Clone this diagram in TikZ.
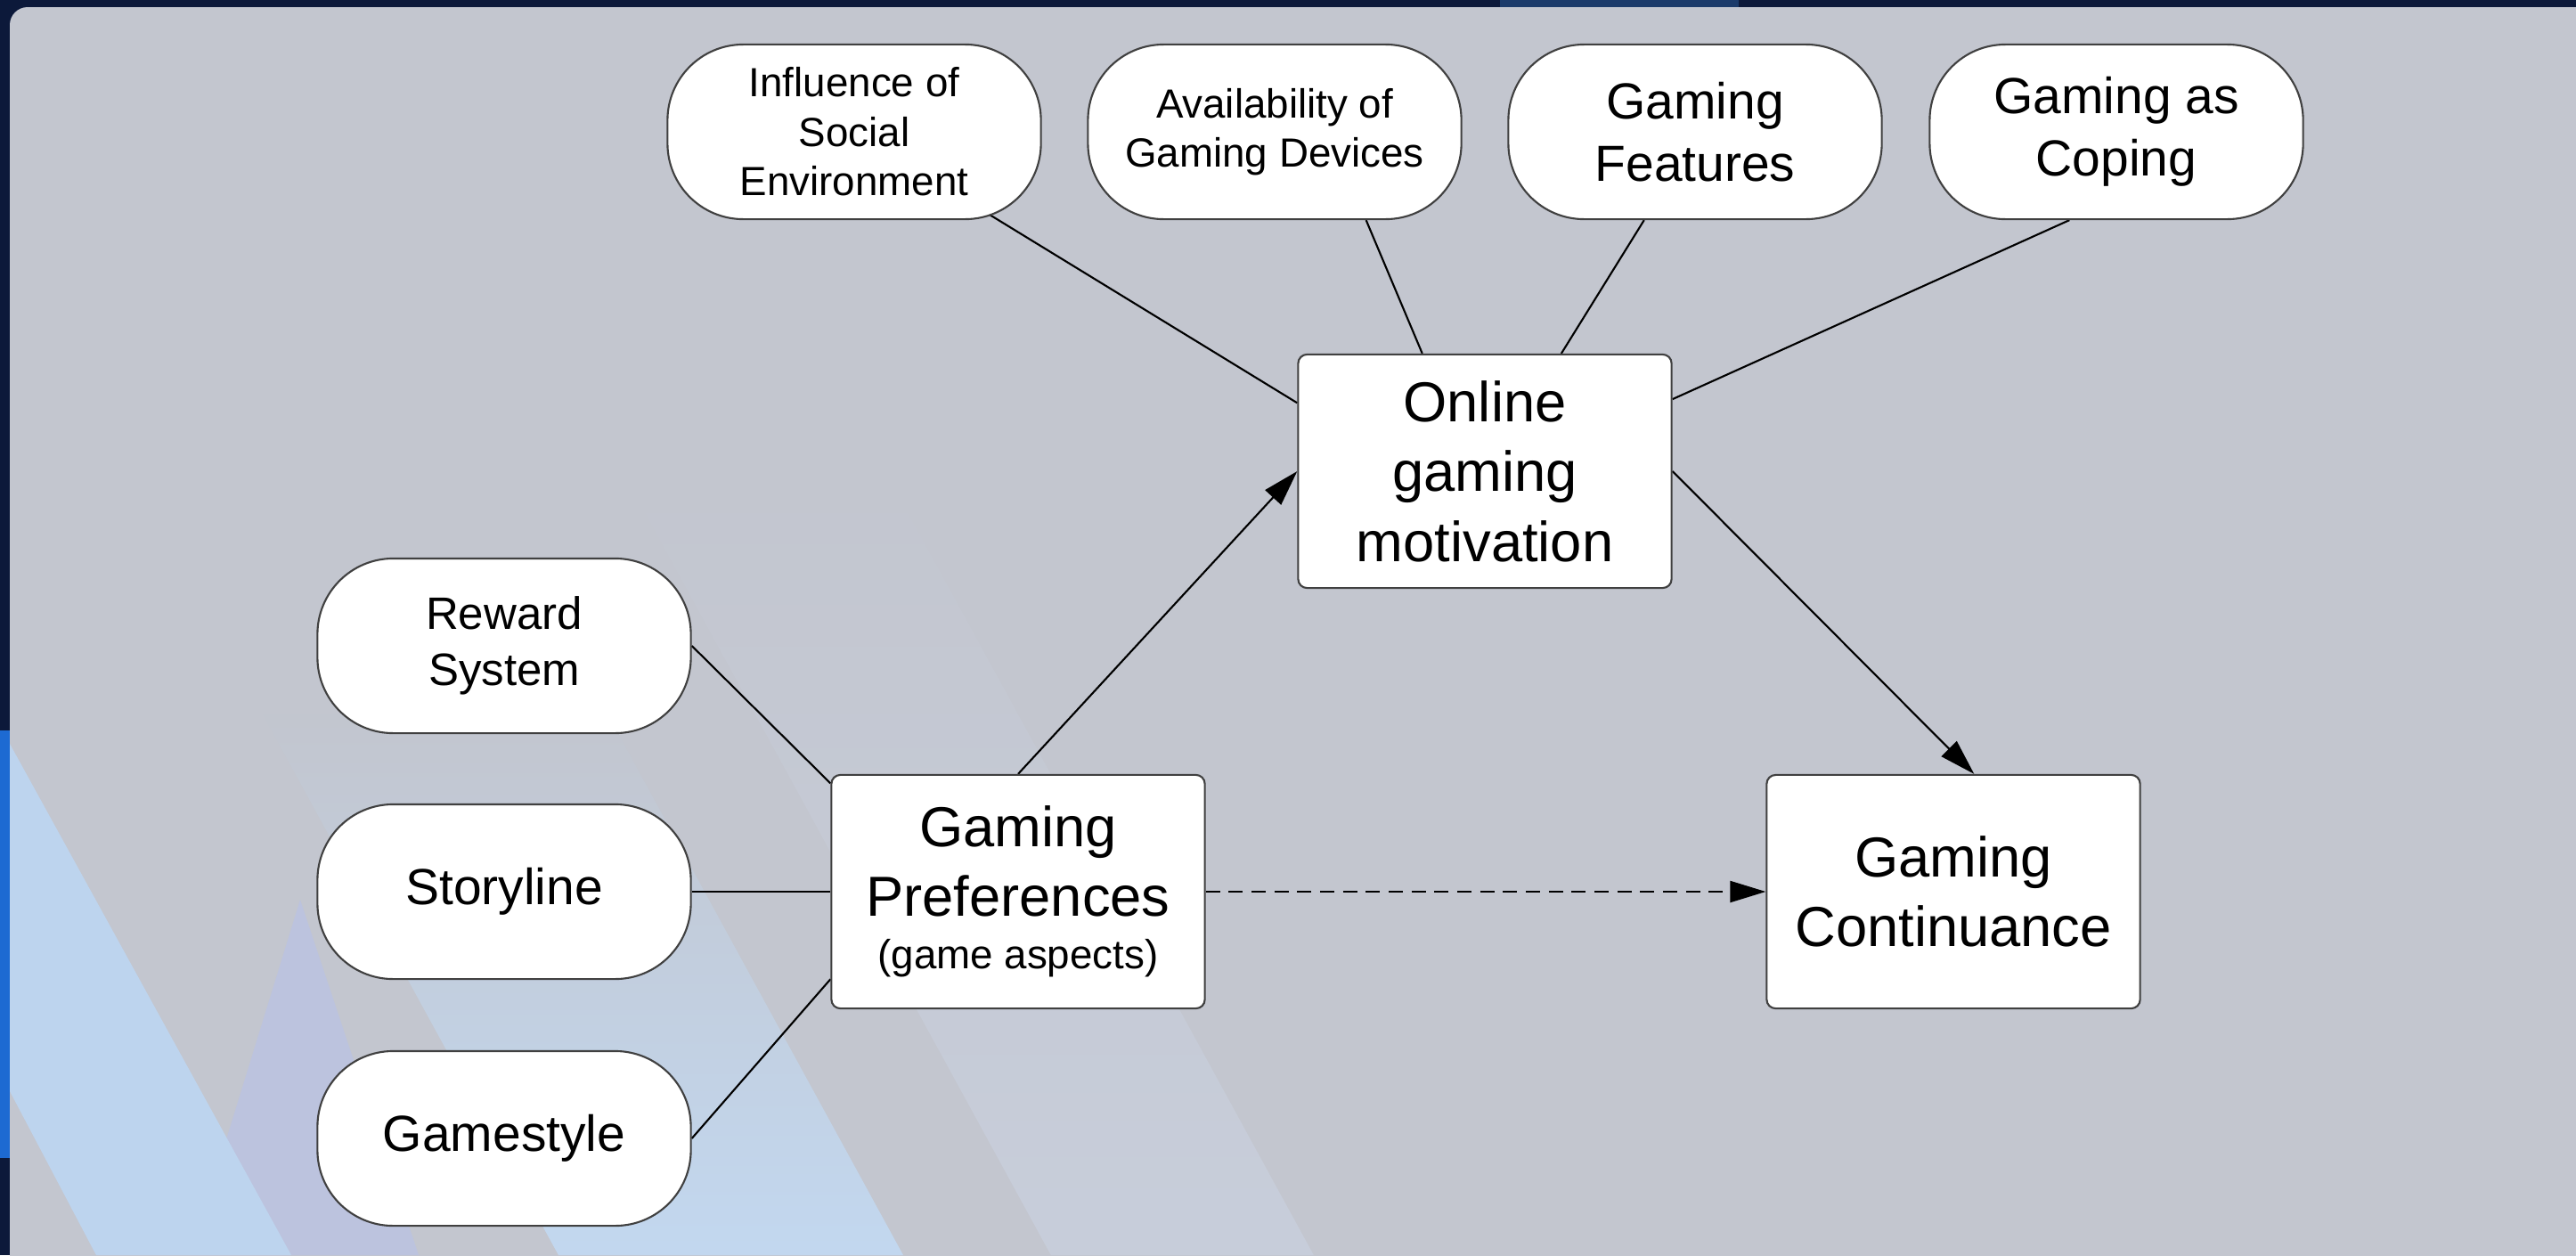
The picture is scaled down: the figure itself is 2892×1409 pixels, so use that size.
\documentclass[tikz,border=0pt]{standalone}
\usepackage{fontspec}
\setmainfont{Liberation Sans}
\usetikzlibrary{arrows.meta,positioning,fadings}
\definecolor{frame}{HTML}{0C193A}
\definecolor{framelight}{HTML}{1B3A6A}
\definecolor{stripe}{HTML}{1D6AD2}
\definecolor{panel}{HTML}{C3C6CF}
\definecolor{bandA}{HTML}{BDD4EE}
\definecolor{bandL}{HTML}{BCC3DE}
\definecolor{bandB}{HTML}{C2D8F0}
\definecolor{bandC}{HTML}{C8CEDB}
\pgfdeclarelayer{back}
\pgfdeclarelayer{wires}
\pgfsetlayers{back,wires,main}
\tikzset{
    oval/.style={draw=black!75, fill=white, line width=0.6pt, rounded corners=0.85cm,
        minimum width=4.19cm, minimum height=1.96cm, inner sep=0pt, align=center,
        font=\fontsize{16.2}{20}\selectfont},
    ovalsmall/.style={oval, font=\fontsize{13}{15.8}\selectfont},
    construct/.style={draw=black!75, fill=white, line width=0.6pt, rounded corners=0.1cm,
        minimum width=4.19cm, minimum height=2.62cm, inner sep=0pt, align=center,
        font=\fontsize{18}{22.3}\selectfont},
    link/.style={line width=0.6pt},
    effect/.style={link, -{Triangle[length=0.4cm,width=0.24cm]}},
}

\begin{document}
\begin{tikzpicture}[x=0.01cm, y=-0.01cm]
    \useasboundingbox (0,0) rectangle (2892,1409);
    \begin{pgfonlayer}{back}
        \begin{scope}
            \clip (0,0) rectangle (2892,1409);
            \fill[frame] (0,0) rectangle (2892,1409);
            \fill[framelight] (1684,0) rectangle (1952,8);
            \fill[stripe] (0,820) rectangle (11,1300);
            \fill[panel, rounded corners=0.2cm] (11,8) rectangle (2910,1430);
            \fill[bandC, path fading=north] (683,500) -- (978,500) -- (1475,1409) -- (1180,1409) -- cycle;
            \fill[bandB, path fading=north] (294,800) -- (681,800) -- (1014,1409) -- (627,1409) -- cycle;
            \fill[bandL] (214,1409) -- (337,1010) -- (470,1409) -- cycle;
            \fill[bandA] (11,835) -- (327,1409) -- (108,1409) -- (11,1225) -- cycle;
        \end{scope}
    \end{pgfonlayer}

    \node[ovalsmall] (infl) at (959,148) {Influence of\\Social\\Environment};
    \node[ovalsmall] (avail) at (1431,148) {Availability of\\Gaming Devices};
    \node[oval] (feat) at (1903,148) {Gaming\\Features};
    \node[oval] (cope) at (2376,148) {Gaming as\\Coping};
    \node[oval, font=\fontsize{14.5}{17.8}\selectfont] (rew) at (566,725) {Reward\\System};
    \node[oval] (story) at (566,1001) {Storyline};
    \node[oval] (gstyle) at (566,1278) {Gamestyle};

    \node[construct] (mot) at (1667,529) {Online\\gaming\\motivation};
    \node[construct] (pref) at (1143,1001) {Gaming\\Preferences\\[-5.5pt]{\fontsize{13}{16}\selectfont (game aspects)}};
    \node[construct] (cont) at (2193,1001) {Gaming\\Continuance};

    \begin{pgfonlayer}{wires}
        \draw[link] (infl.center) -- (mot.160);
        \draw[link] (avail.316) -- (mot.118);
        \draw[link] (feat.240) -- (mot.57);
        \draw[link] (cope.242) -- (mot.21);
        \draw[link] (rew.east) -- (pref.150);
        \draw[link] (story.east) -- (pref.west);
        \draw[link] (gstyle.east) -- (pref.205);
        \draw[effect] (pref.north) -- (mot.west);
        \draw[effect] (mot.east) -- (cont.80);
        \draw[effect, dash pattern=on 4.5pt off 2.8pt] (pref.east) -- (cont.west);
    \end{pgfonlayer}
\end{tikzpicture}
\end{document}
